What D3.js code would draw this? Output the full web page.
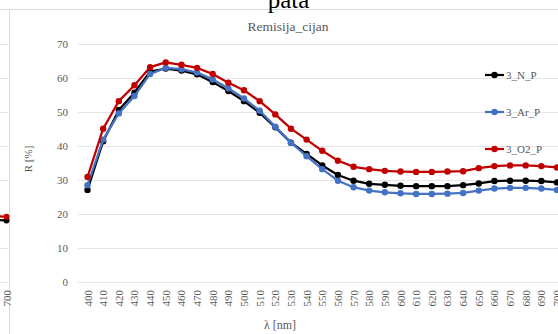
<!DOCTYPE html>
<html>
<head>
<meta charset="utf-8">
<script src="https://cdn.jsdelivr.net/npm/d3@7"></script>
<style>
  body { margin: 0; background: #fff; }
  svg { display: block; }
</style>
</head>
<body>
<svg id="chart" width="558" height="334" font-family="'Liberation Serif', 'Times New Roman', serif"></svg>
<script>
// data
var wavelengths = d3.range(400, 701, 10);
var yTicks = [0, 10, 20, 30, 40, 50, 60, 70];

var valuesN = [27.0, 41.3, 50.5, 55.6, 61.8, 62.7, 62.1, 61.0, 58.7, 56.1, 53.1, 49.7, 45.4, 40.9, 37.6, 34.2,
               31.4, 29.7, 28.8, 28.5, 28.2, 28.1, 28.1, 28.1, 28.4, 28.9, 29.6, 29.7, 29.7, 29.6, 29.2];
var valuesAr = [28.4, 41.8, 49.5, 54.6, 61.1, 62.9, 62.5, 61.5, 59.5, 56.9, 53.9, 50.3, 45.6, 40.9, 36.9, 33.1,
                29.7, 27.8, 26.8, 26.3, 26.0, 25.8, 25.8, 25.9, 26.1, 26.8, 27.4, 27.6, 27.6, 27.4, 27.0];
var valuesO2 = [30.8, 45.0, 53.1, 57.8, 63.1, 64.5, 63.8, 62.9, 61.1, 58.5, 56.3, 53.1, 49.2, 45.0, 41.8, 38.5,
                35.6, 33.8, 33.1, 32.6, 32.4, 32.3, 32.3, 32.4, 32.5, 33.4, 34.0, 34.2, 34.2, 34.0, 33.6];

var seriesNames = ["3_N_P", "3_Ar_P", "3_O2_P"];
var seriesColors = ["#000000", "#4472C4", "#C00000"];

// tail of the neighbouring chart (cut off at the left edge)
var leftTailX = [690, 700];
var leftTailN = [18.2, 18.0];
var leftTailO2 = [19.3, 19.1];

var series = [valuesN, valuesAr, valuesO2].map(function(v, i) {
  return { name: seriesNames[i], color: seriesColors[i],
           points: v.map(function(d, j) { return { x: wavelengths[j], y: d }; }) };
});

var svg = d3.select("svg#chart");
var serif = "'Liberation Serif', 'Times New Roman', serif";

var x = d3.scalePoint().domain(wavelengths).range([87.5, 557]);
var y = d3.scaleLinear().domain([0, 70]).range([281.7, 43.7]);
var step = x.step();

// frame of the document page
svg.append("line").attr("x1", 0).attr("x2", 558).attr("y1", 9.5).attr("y2", 9.5)
   .attr("stroke", "#d9d9d9");
svg.append("line").attr("x1", 9.5).attr("x2", 9.5).attr("y1", 9.5).attr("y2", 334)
   .attr("stroke", "#d9d9d9");

svg.append("text").attr("x", 288.5).attr("y", 8).attr("text-anchor", "middle")
   .style("font-family", serif).style("font-size", "25px").attr("fill", "#000").text("pata");

// left neighbour chart
var xl = d3.scalePoint().domain(leftTailX).range([6.5 - step, 6.5]);
svg.selectAll("lgrid").data(yTicks).enter().append("line")
   .attr("x1", 0).attr("x2", 8.5)
   .attr("y1", function(d) { return Math.round(y(d)) + 0.5; })
   .attr("y2", function(d) { return Math.round(y(d)) + 0.5; })
   .attr("stroke", "#e6e6e6");
[[leftTailN, "#000000"], [leftTailO2, "#C00000"]].forEach(function(s) {
  var pts = s[0].map(function(d, j) { return { x: leftTailX[j], y: d }; });
  svg.append("path").datum(pts)
     .attr("d", d3.line().x(function(d) { return xl(d.x); }).y(function(d) { return y(d.y); }))
     .attr("fill", "none").attr("stroke", s[1]).attr("stroke-width", 2.25);
  svg.selectAll("ltail").data(pts).enter().append("circle")
     .attr("cx", function(d) { return xl(d.x); })
     .attr("cy", function(d) { return y(d.y); })
     .attr("r", 3).attr("fill", s[1]);
});
svg.append("text")
   .attr("transform", "translate(" + (6.5 + 4) + ",290) rotate(-90)")
   .attr("text-anchor", "end").style("font-family", serif).style("font-size", "11px")
   .attr("fill", "#595959").text("700");

// main chart
svg.append("text").attr("x", 288).attr("y", 31).attr("text-anchor", "middle")
   .style("font-family", serif).style("font-size", "13.5px").attr("fill", "#595959").text("Remisija_cijan");

svg.selectAll("grid").data(yTicks).enter().append("line")
   .attr("x1", 77.5).attr("x2", 558)
   .attr("y1", function(d) { return Math.round(y(d)) + 0.5; })
   .attr("y2", function(d) { return Math.round(y(d)) + 0.5; })
   .attr("stroke", "#e6e6e6");

svg.selectAll("ytick").data(yTicks).enter().append("text")
   .attr("x", 68).attr("y", function(d) { return y(d) + 4; })
   .attr("text-anchor", "end").style("font-family", serif).style("font-size", "11px").attr("fill", "#595959")
   .text(function(d) { return d; });

svg.selectAll("xtick").data(wavelengths).enter().append("text")
   .attr("transform", function(d) { return "translate(" + (x(d) + 4) + ",290) rotate(-90)"; })
   .attr("text-anchor", "end").style("font-family", serif).style("font-size", "11px").attr("fill", "#595959")
   .text(function(d) { return d; });

svg.append("text").attr("transform", "translate(32,159) rotate(-90)")
   .attr("text-anchor", "middle").style("font-family", serif).style("font-size", "11px")
   .attr("fill", "#595959").text("R [%]");
svg.append("text").attr("x", 280).attr("y", 329).attr("text-anchor", "middle")
   .style("font-family", serif).style("font-size", "12px").attr("fill", "#595959").text("λ [nm]");

var line = d3.line().x(function(d) { return x(d.x); }).y(function(d) { return y(d.y); });

series.forEach(function(s) {
  svg.append("path").datum(s.points)
     .attr("d", line).attr("fill", "none")
     .attr("stroke", s.color).attr("stroke-width", 2.25).attr("stroke-linejoin", "round");
  svg.selectAll("pt").data(s.points).enter().append("circle")
     .attr("cx", function(d) { return x(d.x); })
     .attr("cy", function(d) { return y(d.y); })
     .attr("r", 3.2).attr("fill", s.color);
});

// legend
var legendY = [75, 112, 149];
var legend = svg.selectAll("legend").data(series).enter().append("g")
   .attr("transform", function(d, i) { return "translate(485," + legendY[i] + ")"; });
legend.append("line").attr("x1", 0).attr("x2", 19).attr("y1", 0).attr("y2", 0)
   .attr("stroke", function(d) { return d.color; }).attr("stroke-width", 2.25);
legend.append("circle").attr("cx", 9.5).attr("cy", 0).attr("r", 3.2)
   .attr("fill", function(d) { return d.color; });
legend.append("text").attr("x", 21).attr("y", 4).style("font-family", serif).style("font-size", "11px")
   .attr("fill", "#595959").text(function(d) { return d.name; });
</script>
</body>
</html>
